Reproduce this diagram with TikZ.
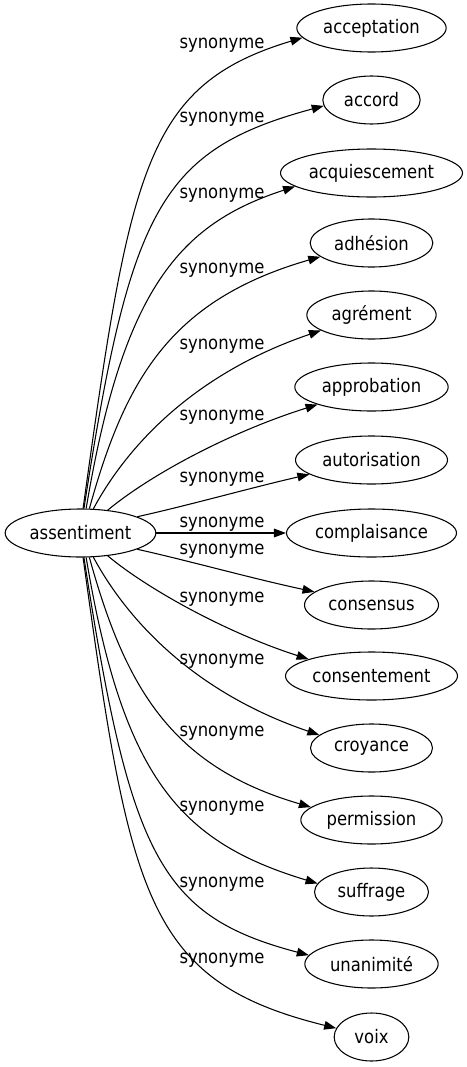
\documentclass[tikz,border=0pt]{standalone}
\usepackage{fontspec}
\setmainfont[FakeStretch=0.88]{DejaVu Sans}
\usetikzlibrary{shapes.geometric, arrows.meta}

\tikzset{
    word/.style = {ellipse, draw, line width = 0.8pt, inner sep = 0pt, minimum height = 36pt, minimum width = #1},
    word/.default = 54pt,
    syn/.style = {line width = 0.8pt, -{Triangle[length = 9pt, width = 6.5pt]}},
}

\begin{document}
\begin{tikzpicture}[x = 0.75pt, y = -0.75pt, every node/.style = {font = \fontsize{14}{16}\selectfont}]
    \useasboundingbox (0,0) rectangle (467,1067);

    \node[word = 113pt] (assentiment) at (80.5,533) {assentiment};

    \node[word = 112pt] (acceptation) at (371.5,28) {acceptation};
    \node[word = 73pt] (accord) at (371.5,100) {accord};
    \node[word = 136.5pt] (acquiescement) at (371.5,173) {acquiescement};
    \node[word = 92pt] (adhesion) at (371.5,243) {adhésion};
    \node[word = 97pt] (agrement) at (371.5,315) {agrément};
    \node[word = 115pt] (approbation) at (371.5,387) {approbation};
    \node[word = 114pt] (autorisation) at (371.5,460) {autorisation};
    \node[word = 127.5pt] (complaisance) at (371.5,533) {complaisance};
    \node[word = 100.5pt] (consensus) at (371.5,605) {consensus};
    \node[word = 129pt] (consentement) at (371.5,676) {consentement};
    \node[word = 91.5pt] (croyance) at (371.5,748) {croyance};
    \node[word = 106pt] (permission) at (371.5,820) {permission};
    \node[word = 85.5pt] (suffrage) at (371.5,892) {suffrage};
    \node[word = 100pt] (unanimite) at (371.5,964) {unanimité};
    \node[word = 56pt] (voix) at (371.5,1037) {voix};

    \draw[syn] (assentiment.84) .. controls (130,170) and (145,85) .. (acceptation.188);
    \draw[syn] (assentiment.82) .. controls (130,210) and (160,150) .. (accord.187);
    \draw[syn] (assentiment.77) .. controls (123,288) and (180,224) .. (acquiescement.190);
    \draw[syn] (assentiment.70) .. controls (125,380) and (170,300) .. (adhesion.195);
    \draw[syn] (assentiment.62) .. controls (125,450) and (190,375) .. (agrement.197);
    \draw[syn] (assentiment.40) .. controls (150,475) and (230,432) .. (approbation.198);
    \draw[syn] (assentiment.16) .. controls (190,505) and (250,488) .. (autorisation.193);
    \draw[syn] (assentiment) -- (complaisance);
    \draw[syn] (assentiment.-16) .. controls (190,561) and (250,578) .. (consensus.167);
    \draw[syn] (assentiment.-40) .. controls (150,591) and (230,634) .. (consentement.165);
    \draw[syn] (assentiment.-62) .. controls (125,616) and (190,691) .. (croyance.166);
    \draw[syn] (assentiment.-70) .. controls (125,686) and (170,766) .. (permission.168);
    \draw[syn] (assentiment.-77) .. controls (123,778) and (180,842) .. (suffrage.171);
    \draw[syn] (assentiment.-82) .. controls (130,856) and (160,916) .. (unanimite.172);
    \draw[syn] (assentiment.-84) .. controls (130,896) and (145,981) .. (voix.166);

    \node (l1) at (222,45) {synonyme};
    \node (l2) at (222,119) {synonyme};
    \node (l3) at (222,195) {synonyme};
    \node (l4) at (222,270) {synonyme};
    \node (l5) at (222,346) {synonyme};
    \node (l6) at (222,417) {synonyme};
    \node (l7) at (222,479) {synonyme};
    \node (l8) at (222,524) {synonyme};
    \node (l9) at (222,551) {synonyme};
    \node (l10) at (222,599) {synonyme};
    \node (l11) at (222,661) {synonyme};
    \node (l12) at (222,733) {synonyme};
    \node (l13) at (222,808) {synonyme};
    \node (l14) at (222,884) {synonyme};
    \node (l15) at (222,960) {synonyme};
\end{tikzpicture}
\end{document}
